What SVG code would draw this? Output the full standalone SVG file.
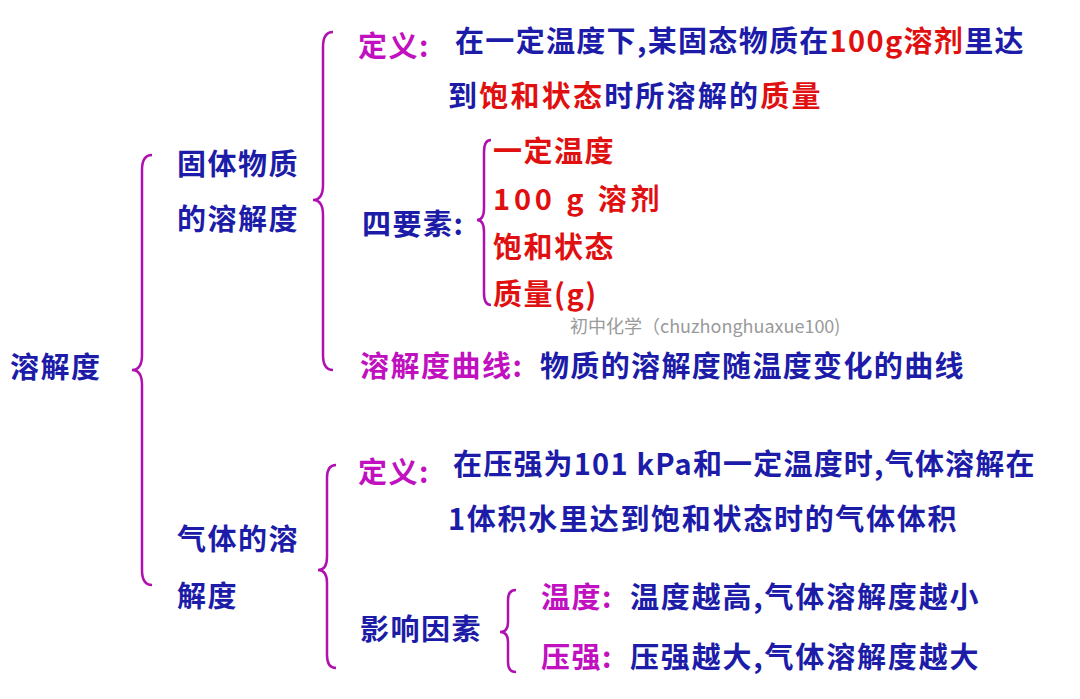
<svg xmlns="http://www.w3.org/2000/svg" width="1080" height="699" viewBox="0 0 1080 699">
<style>
text{font-family:"Noto Sans CJK SC","Noto Sans",sans-serif;font-size:29px;letter-spacing:1.5px;font-weight:bold;fill:#1c1ca8}
.r{fill:#e01010}.m{fill:#c010c0}
.wm{font-size:18px;font-weight:normal;letter-spacing:0;fill:#9a9a9a}
.br{fill:none;stroke:#b010b0;stroke-width:2.5}
</style>
<rect width="1080" height="699" fill="#fff"/>
<g id="connectors">
<path class="br" d="M152,155 Q142,155 142,170 L142,355 Q142,370 132,370 Q142,370 142,385 L142,570 Q142,585 152,585"/>
<path class="br" d="M333,32 Q323,32 323,47 L323,185 Q323,200 313,200 Q323,200 323,215 L323,355 Q323,370 333,370"/>
<path class="br" d="M491,140 Q484,140 484,152 L484,208 Q484,220 477,220 Q484,220 484,232 L484,293 Q484,305 491,305"/>
<path class="br" d="M336,465 Q327,465 327,478 L327,557 Q327,570 318,570 Q327,570 327,583 L327,655 Q327,668 336,668"/>
<path class="br" d="M516,590 Q508,590 508,600 L508,622 Q508,632 500,632 Q508,632 508,642 L508,662 Q508,672 516,672"/>
</g>
<g id="root"><text x="10" y="378">溶解度</text></g>
<g id="solid"><text x="177" y="175">固体物质</text><text x="177" y="230">的溶解度</text></g>
<g id="def1"><text x="358" y="57" class="m">定义:</text>
<text x="455" y="52" textLength="570">在一定温度下,某固态物质在<tspan class="r">100g溶剂</tspan>里达</text>
<text x="448" y="107" textLength="374">到<tspan class="r">饱和状态</tspan>时所溶解的<tspan class="r">质量</tspan></text></g>
<g id="four"><text x="362" y="235">四要素:</text>
<text x="493" y="162" class="r">一定温度</text>
<text x="493" y="210" class="r" textLength="168">100 g 溶剂</text>
<text x="493" y="258" class="r">饱和状态</text>
<text x="493" y="305" class="r">质量(g)</text></g>
<text x="570" y="333" class="wm">初中化学（chuzhonghuaxue100)</text>
<g id="curve"><text x="360" y="377" class="m">溶解度曲线:</text><text x="540" y="377" textLength="425">物质的溶解度随温度变化的曲线</text></g>
<g id="gas"><text x="177" y="550">气体的溶</text><text x="177" y="607">解度</text></g>
<g id="def2"><text x="358" y="483" class="m">定义:</text>
<text x="453" y="475" textLength="583">在压强为101 kPa和一定温度时,气体溶解在</text>
<text x="448" y="530" textLength="510">1体积水里达到饱和状态时的气体体积</text></g>
<g id="factor"><text x="360" y="640">影响因素</text>
<text x="541" y="608" class="m">温度:</text><text x="630" y="608" textLength="350">温度越高,气体溶解度越小</text>
<text x="541" y="668" class="m">压强:</text><text x="630" y="668" textLength="350">压强越大,气体溶解度越大</text></g>
</svg>
